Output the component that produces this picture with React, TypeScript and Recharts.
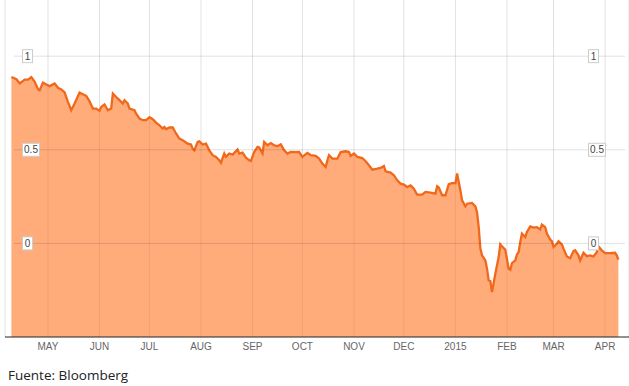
import React from 'react';
import { AreaChart, Area, XAxis, YAxis, CartesianGrid, ReferenceLine } from 'recharts';

// daily closes (Apr 2014 - Apr 2015)
const DATES = [
  '2014-04-09', '2014-04-12', '2014-04-14', '2014-04-17', '2014-04-19', '2014-04-21', '2014-04-23', '2014-04-25', '2014-04-26', '2014-04-28', '2014-04-30',
  '2014-05-02', '2014-05-05', '2014-05-07', '2014-05-09', '2014-05-11', '2014-05-13', '2014-05-15', '2014-05-17', '2014-05-20', '2014-05-22', '2014-05-24', '2014-05-26', '2014-05-28', '2014-05-30',
  '2014-06-01', '2014-06-02', '2014-06-04', '2014-06-06', '2014-06-08', '2014-06-09', '2014-06-11', '2014-06-13', '2014-06-15', '2014-06-16', '2014-06-18', '2014-06-19', '2014-06-22', '2014-06-23', '2014-06-25', '2014-06-27', '2014-06-29',
  '2014-07-01', '2014-07-03', '2014-07-05', '2014-07-07', '2014-07-09', '2014-07-10', '2014-07-11', '2014-07-13', '2014-07-15', '2014-07-17', '2014-07-19', '2014-07-21', '2014-07-24', '2014-07-26', '2014-07-27', '2014-07-28', '2014-07-30', '2014-07-31',
  '2014-08-02', '2014-08-04', '2014-08-06', '2014-08-08', '2014-08-10', '2014-08-12', '2014-08-13', '2014-08-15', '2014-08-16', '2014-08-18', '2014-08-20', '2014-08-23', '2014-08-24', '2014-08-26', '2014-08-28', '2014-08-30', '2014-08-31',
  '2014-09-02', '2014-09-04', '2014-09-05', '2014-09-07', '2014-09-08', '2014-09-10', '2014-09-12', '2014-09-14', '2014-09-16', '2014-09-18', '2014-09-20', '2014-09-22', '2014-09-24', '2014-09-27', '2014-09-29',
  '2014-10-01', '2014-10-04', '2014-10-06', '2014-10-09', '2014-10-11', '2014-10-13', '2014-10-15', '2014-10-16', '2014-10-17', '2014-10-19', '2014-10-22', '2014-10-24', '2014-10-27', '2014-10-29', '2014-10-30',
  '2014-11-01', '2014-11-03', '2014-11-06', '2014-11-08', '2014-11-10', '2014-11-12', '2014-11-15', '2014-11-17', '2014-11-19', '2014-11-20', '2014-11-23', '2014-11-25', '2014-11-27', '2014-11-29',
  '2014-12-01', '2014-12-03', '2014-12-05', '2014-12-07', '2014-12-09', '2014-12-12', '2014-12-14', '2014-12-17', '2014-12-20', '2014-12-21', '2014-12-22', '2014-12-24', '2014-12-26', '2014-12-28', '2014-12-30',
  '2015-01-01', '2015-01-02', '2015-01-04', '2015-01-05', '2015-01-07', '2015-01-08', '2015-01-11', '2015-01-13', '2015-01-14', '2015-01-15', '2015-01-16', '2015-01-17', '2015-01-19', '2015-01-20', '2015-01-21', '2015-01-22', '2015-01-23', '2015-01-25', '2015-01-27', '2015-01-28', '2015-01-29', '2015-01-31',
  '2015-02-02', '2015-02-03', '2015-02-04', '2015-02-06', '2015-02-07', '2015-02-08', '2015-02-09', '2015-02-10', '2015-02-12', '2015-02-13', '2015-02-15', '2015-02-17', '2015-02-19', '2015-02-21', '2015-02-22', '2015-02-24', '2015-02-25', '2015-02-27', '2015-02-28',
  '2015-03-01', '2015-03-03', '2015-03-04', '2015-03-06', '2015-03-07', '2015-03-09', '2015-03-11', '2015-03-13', '2015-03-14', '2015-03-16', '2015-03-17', '2015-03-19', '2015-03-21', '2015-03-23', '2015-03-25', '2015-03-27', '2015-03-28', '2015-03-30',
  '2015-04-01', '2015-04-04', '2015-04-07', '2015-04-08', '2015-04-09',
];

const VALUES = [
  0.889, 0.877, 0.854, 0.875, 0.875, 0.888, 0.863, 0.824, 0.818, 0.859, 0.849,
  0.840, 0.854, 0.831, 0.822, 0.806, 0.756, 0.711, 0.747, 0.806, 0.797, 0.788, 0.759, 0.720, 0.720,
  0.708, 0.729, 0.742, 0.711, 0.720, 0.800, 0.782, 0.765, 0.747, 0.765, 0.747, 0.720, 0.711, 0.693, 0.667, 0.658, 0.658,
  0.674, 0.663, 0.645, 0.631, 0.613, 0.622, 0.610, 0.619, 0.619, 0.587, 0.560, 0.551, 0.533, 0.528, 0.506, 0.497, 0.542, 0.545,
  0.528, 0.533, 0.497, 0.471, 0.462, 0.444, 0.431, 0.480, 0.462, 0.480, 0.474, 0.501, 0.480, 0.485, 0.458, 0.444, 0.440,
  0.488, 0.515, 0.512, 0.480, 0.542, 0.524, 0.536, 0.524, 0.519, 0.529, 0.497, 0.480, 0.488, 0.487, 0.488,
  0.462, 0.483, 0.471, 0.467, 0.453, 0.426, 0.408, 0.444, 0.471, 0.453, 0.453, 0.488, 0.492, 0.488, 0.467,
  0.480, 0.462, 0.456, 0.439, 0.417, 0.394, 0.399, 0.403, 0.413, 0.385, 0.378, 0.364, 0.337, 0.319,
  0.314, 0.301, 0.310, 0.292, 0.260, 0.260, 0.275, 0.271, 0.266, 0.305, 0.298, 0.257, 0.257, 0.316, 0.322,
  0.322, 0.373, 0.283, 0.230, 0.198, 0.212, 0.216, 0.198, 0.167, 0.087, -0.028, -0.064, -0.091, -0.135, -0.198, -0.201, -0.260, -0.162, -0.073, -0.005, -0.016, -0.034,
  -0.135, -0.141, -0.105, -0.091, -0.059, -0.047, 0.007, 0.052, 0.034, 0.061, 0.091, 0.084, 0.087, 0.075, 0.100, 0.087, 0.052, 0.020, 0.012,
  -0.020, -0.002, 0.011, -0.005, -0.028, -0.070, -0.079, -0.041, -0.037, -0.064, -0.091, -0.050, -0.068, -0.064, -0.070, -0.047, -0.016, -0.037,
  -0.052, -0.052, -0.050, -0.064, -0.087,
];

const MONTH_TICKS = [
  '2014-05-01', '2014-06-01', '2014-07-01', '2014-08-01', '2014-09-01', '2014-10-01',
  '2014-11-01', '2014-12-01', '2015-01-01', '2015-02-01', '2015-03-01', '2015-04-01',
];
const MONTH_LABELS = ['MAY', 'JUN', 'JUL', 'AUG', 'SEP', 'OCT', 'NOV', 'DEC', '2015', 'FEB', 'MAR', 'APR'];

const Y_TICKS = [1, 0.5, 0];
const Y_LABELS = ['1', '0.5', '0'];

// layout
const W = 629;
const H = 386;
const DAY = 86400000;
const PX_PER_DAY = 1.663;
const FIRST_X = 11.4; // pixel where the first point sits
const PLOT_LEFT = 5;
const PLOT_BOTTOM = 337;
const START = Date.parse(DATES[0]);
const toTime = (px: number) => START + ((px - FIRST_X) / PX_PER_DAY) * DAY;
const X_DOMAIN = [toTime(PLOT_LEFT), toTime(W)];
const GRID_FROM = toTime(14);
const GRID_TO = toTime(625);

const data = DATES.map((d, i) => ({ t: Date.parse(d), v: VALUES[i] }));
const monthTicks = MONTH_TICKS.map(d => Date.parse(d));

const XTick = (props: any) => {
  const { x, payload } = props;
  const idx = monthTicks.indexOf(payload.value);
  return (
    <text
      x={x}
      y={PLOT_BOTTOM + 13}
      textAnchor="middle"
      fontSize={10}
      fontFamily="'Liberation Sans Narrow', 'Arial Narrow', sans-serif"
      fill="#666"
    >
      {MONTH_LABELS[idx]}
    </text>
  );
};

const LabelBox = ({ x, y, label }: { x: number; y: number; label: string }) => {
  const w = label.length > 1 ? 17 : 10;
  return (
    <g>
      <rect x={x + 0.5} y={y - 6.5} width={w} height={13} fill="#fff" stroke="#ccc" />
      <text
        x={x + 0.5 + w / 2}
        y={y + 3.5}
        textAnchor="middle"
        fontSize={10}
        fontFamily="'Liberation Sans', Arial, sans-serif"
        fill="#444"
      >
        {label}
      </text>
    </g>
  );
};

const YTick = (props: any) => {
  const { y, payload } = props;
  const label = Y_LABELS[Y_TICKS.indexOf(payload.value)];
  return (
    <g>
      <LabelBox x={22} y={y} label={label} />
      <LabelBox x={588} y={y} label={label} />
    </g>
  );
};

export default function App() {
  return (
    <div style={{ position: 'absolute', left: 0, top: 0, width: W, height: H, background: '#fff' }}>
      <AreaChart width={W} height={H} data={data} margin={{ top: 0, right: 0, bottom: 0, left: PLOT_LEFT }}>
        <CartesianGrid horizontal={false} stroke="#e2e2e2" />
        {Y_TICKS.map(v => (
          <ReferenceLine
            key={v}
            segment={[{ x: GRID_FROM, y: v }, { x: GRID_TO, y: v }]}
            stroke="rgba(0,0,0,0.12)"
          />
        ))}
        <Area
          type="linear"
          dataKey="v"
          stroke="#f2681a"
          strokeWidth={2.3}
          fill="#ff7321"
          fillOpacity={0.6}
          baseValue={-0.5}
          dot={false}
          activeDot={false}
          isAnimationActive={false}
        />
        <XAxis
          dataKey="t"
          type="number"
          domain={X_DOMAIN}
          allowDataOverflow
          ticks={monthTicks}
          interval={0}
          tickLine={false}
          axisLine={{ stroke: '#222' }}
          height={H - PLOT_BOTTOM}
          tick={<XTick />}
        />
        <YAxis
          type="number"
          domain={[-0.5, 1.3]}
          allowDataOverflow
          ticks={Y_TICKS}
          interval={0}
          mirror
          tickLine={false}
          axisLine={false}
          tick={<YTick />}
        />
      </AreaChart>
      <div
        style={{
          position: 'absolute',
          left: 8,
          top: 366,
          fontFamily: "'Open Sans', sans-serif",
          fontSize: 13.5,
          lineHeight: '18px',
          color: '#222',
        }}
      >
        Fuente: Bloomberg
      </div>
    </div>
  );
}
